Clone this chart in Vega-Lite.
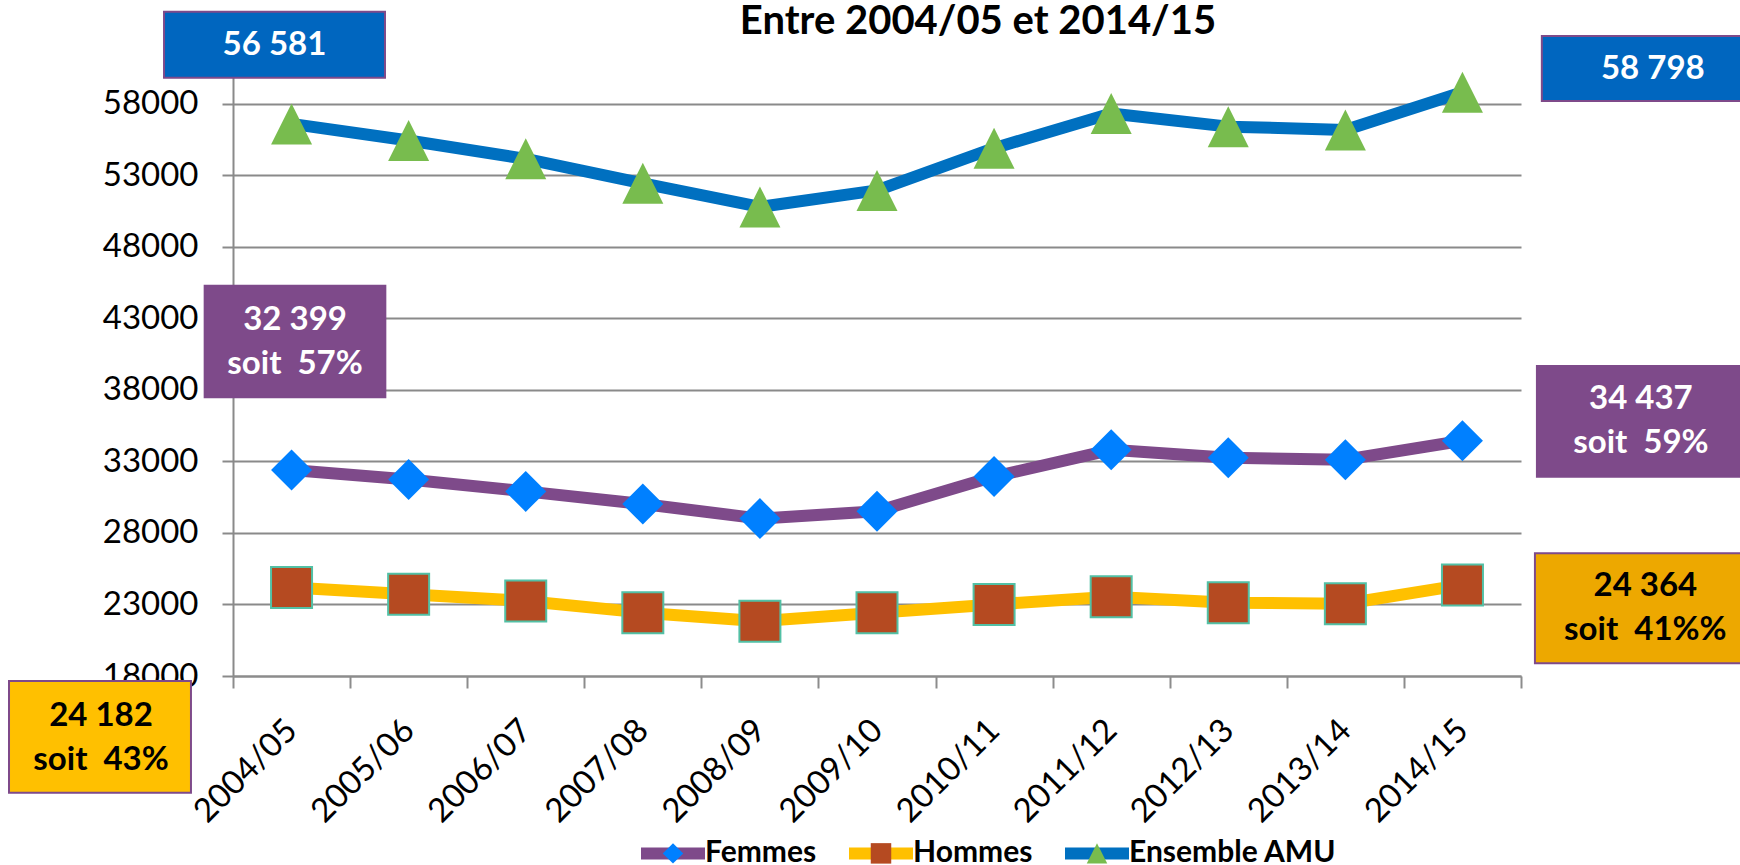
{
  "$schema": "https://vega.github.io/schema/vega-lite/v6.json",
  "autosize": {"type": "none"},
  "padding": {"left": 233, "top": 75, "right": 219, "bottom": 189},
  "width": 1288,
  "height": 601,
  "background": "white",
  "config": {"view": {"stroke": null}, "font": "Lato"},
  "title": {"text": "Entre 2004/05 et 2014/15", "anchor": "middle", "frame": "group", "dx": 101, "offset": 0, "dy": 31, "font": "Lato", "fontSize": 40, "fontWeight": "bold", "color": "#000000"},
  "datasets": {
    "series": [
      {"annee": "2004/05", "idx": 0, "serie": "Femmes", "valeur": 32399},
      {"annee": "2005/06", "idx": 1, "serie": "Femmes", "valeur": 31727},
      {"annee": "2006/07", "idx": 2, "serie": "Femmes", "valeur": 30902},
      {"annee": "2007/08", "idx": 3, "serie": "Femmes", "valeur": 30014},
      {"annee": "2008/09", "idx": 4, "serie": "Femmes", "valeur": 29000},
      {"annee": "2009/10", "idx": 5, "serie": "Femmes", "valeur": 29517},
      {"annee": "2010/11", "idx": 6, "serie": "Femmes", "valeur": 31937},
      {"annee": "2011/12", "idx": 7, "serie": "Femmes", "valeur": 33804},
      {"annee": "2012/13", "idx": 8, "serie": "Femmes", "valeur": 33245},
      {"annee": "2013/14", "idx": 9, "serie": "Femmes", "valeur": 33119},
      {"annee": "2014/15", "idx": 10, "serie": "Femmes", "valeur": 34437},
      {"annee": "2004/05", "idx": 0, "serie": "Hommes", "valeur": 24182},
      {"annee": "2005/06", "idx": 1, "serie": "Hommes", "valeur": 23720},
      {"annee": "2006/07", "idx": 2, "serie": "Hommes", "valeur": 23245},
      {"annee": "2007/08", "idx": 3, "serie": "Hommes", "valeur": 22427},
      {"annee": "2008/09", "idx": 4, "serie": "Hommes", "valeur": 21832},
      {"annee": "2009/10", "idx": 5, "serie": "Hommes", "valeur": 22427},
      {"annee": "2010/11", "idx": 6, "serie": "Hommes", "valeur": 23000},
      {"annee": "2011/12", "idx": 7, "serie": "Hommes", "valeur": 23538},
      {"annee": "2012/13", "idx": 8, "serie": "Hommes", "valeur": 23119},
      {"annee": "2013/14", "idx": 9, "serie": "Hommes", "valeur": 23049},
      {"annee": "2014/15", "idx": 10, "serie": "Hommes", "valeur": 24364},
      {"annee": "2004/05", "idx": 0, "serie": "Ensemble AMU", "valeur": 56581},
      {"annee": "2005/06", "idx": 1, "serie": "Ensemble AMU", "valeur": 55427},
      {"annee": "2006/07", "idx": 2, "serie": "Ensemble AMU", "valeur": 54140},
      {"annee": "2007/08", "idx": 3, "serie": "Ensemble AMU", "valeur": 52427},
      {"annee": "2008/09", "idx": 4, "serie": "Ensemble AMU", "valeur": 50783},
      {"annee": "2009/10", "idx": 5, "serie": "Ensemble AMU", "valeur": 51937},
      {"annee": "2010/11", "idx": 6, "serie": "Ensemble AMU", "valeur": 54888},
      {"annee": "2011/12", "idx": 7, "serie": "Ensemble AMU", "valeur": 57313},
      {"annee": "2012/13", "idx": 8, "serie": "Ensemble AMU", "valeur": 56392},
      {"annee": "2013/14", "idx": 9, "serie": "Ensemble AMU", "valeur": 56161},
      {"annee": "2014/15", "idx": 10, "serie": "Ensemble AMU", "valeur": 58798}
    ],
    "annotations": [
      {"groupe": "Ensemble AMU", "cote": "debut", "texte": "56 581", "x": -1.089, "x2": 0.798, "y": 64423, "y2": 59811, "xt": -0.146, "yt": 62117},
      {"groupe": "Ensemble AMU", "cote": "fin", "texte": "58 798", "x": 10.678, "x2": 12.42, "y": 62725, "y2": 58183, "xt": 11.626, "yt": 60419},
      {"groupe": "Femmes", "cote": "debut", "texte": "32 399\nsoit \u00a057%", "x": -0.742, "x2": 0.801, "y": 45276, "y2": 37477, "xt": 0.03, "yt": 42879},
      {"groupe": "Femmes", "cote": "fin", "texte": "34 437\nsoit \u00a059%", "x": 10.636, "x2": 12.42, "y": 39665, "y2": 31929, "xt": 11.524, "yt": 37358},
      {"groupe": "Hommes", "cote": "fin", "texte": "24 364\nsoit \u00a041%%", "x": 10.619, "x2": 12.42, "y": 26576, "y2": 18889, "xt": 11.562, "yt": 24312},
      {"groupe": "Hommes", "cote": "debut", "texte": "24 182\nsoit \u00a043%", "x": -2.413, "x2": -0.859, "y": 17652, "y2": 9846, "xt": -1.627, "yt": 15206}
    ]
  },
  "layer": [
    {
      "data": {"name": "series"},
      "mark": {"type": "line", "strokeWidth": 12, "strokeJoin": "round", "strokeCap": "butt"},
      "encoding": {
        "x": {
          "field": "idx", "type": "quantitative",
          "scale": {"domain": [-0.5, 10.5], "nice": false, "zero": false},
          "axis": {
            "values": [-0.5, 0, 0.5, 1, 1.5, 2, 2.5, 3, 3.5, 4, 4.5, 5, 5.5, 6, 6.5, 7, 7.5, 8, 8.5, 9, 9.5, 10, 10.5],
            "title": null, "grid": false,
            "domainColor": "#8c8c8c", "domainWidth": 2,
            "tickColor": "#8c8c8c", "tickWidth": 2, "tickSize": 12,
            "tickOpacity": {"condition": {"test": "datum.value % 1 !== 0", "value": 1}, "value": 0},
            "labelExpr": "datum.value % 1 === 0 ? ['2004/05','2005/06','2006/07','2007/08','2008/09','2009/10','2010/11','2011/12','2012/13','2013/14','2014/15'][datum.value] : ''",
            "labelAngle": -45, "labelAlign": "right", "labelBaseline": "middle",
            "labelFont": "Lato", "labelFontSize": 33, "labelColor": "#000000",
            "labelPadding": 37, "labelOverlap": false, "labelFlush": false, "labelBound": false
          }
        },
        "y": {
          "field": "valeur", "type": "quantitative",
          "scale": {"domain": [18000, 60000], "nice": false, "zero": false},
          "axis": {
            "values": [18000, 23000, 28000, 33000, 38000, 43000, 48000, 53000, 58000],
            "title": null, "grid": true, "gridColor": "#8a8a8a", "gridWidth": 2,
            "domainColor": "#8a8a8a", "domainWidth": 2,
            "tickColor": "#8a8a8a", "tickWidth": 2, "tickSize": 11,
            "labelFont": "Lato", "labelFontSize": 33, "labelColor": "#000000",
            "labelPadding": 24, "format": "d", "labelOverlap": false, "labelFlush": false
          }
        },
        "stroke": {
          "field": "serie", "type": "nominal",
          "sort": ["Femmes", "Hommes", "Ensemble AMU"],
          "scale": {"range": ["#7E4A8A", "#FFC000", "#0070C0"]},
          "legend": {
            "orient": "none", "legendX": 402, "legendY": 740, "direction": "horizontal", "columns": 3,
            "title": null, "padding": 0, "symbolType": "M0,-0.32M0,0.32M-1,0L1,0", "symbolSize": 4096, "symbolStrokeWidth": 12,
            "labelFont": "Lato", "labelFontSize": 30, "labelFontWeight": "bold", "labelColor": "#000000",
            "labelOffset": -6, "columnPadding": 8, "labelLimit": 400
          }
        }
      }
    },
    {
      "data": {"name": "series"},
      "mark": {"type": "point", "filled": true, "opacity": 1, "size": 16416, "stroke": "transparent", "strokeWidth": 12},
      "encoding": {
        "x": {"field": "idx", "type": "quantitative", "scale": {"domain": [-0.5, 10.5], "nice": false, "zero": false}},
        "y": {"field": "valeur", "type": "quantitative", "scale": {"domain": [18000, 60000], "nice": false, "zero": false}},
        "fill": {
          "field": "serie", "type": "nominal",
          "scale": {"domain": ["Femmes", "Hommes", "Ensemble AMU"], "range": ["#0080FF", "#B54A21", "#78BC4E"]},
          "legend": {
            "orient": "none", "legendX": 402, "legendY": 740, "direction": "horizontal", "columns": 3,
            "title": null, "padding": 0, "symbolSize": 4096, "symbolStrokeWidth": 12, "symbolStrokeColor": "transparent", "symbolOpacity": 1,
            "labelFont": "Lato", "labelFontSize": 30, "labelFontWeight": "bold", "labelOpacity": 0,
            "labelOffset": -6, "columnPadding": 8, "labelLimit": 400
          }
        },
        "shape": {
          "field": "serie", "type": "nominal",
          "scale": {"domain": ["Femmes", "Hommes", "Ensemble AMU"], "range": ["M-1,0M1,0M0,-0.32L0.32,0L0,0.32L-0.32,0Z", "M-1,0M1,0M-0.32,-0.32L0.32,-0.32L0.32,0.32L-0.32,0.32Z", "M-1,0M1,0M0,-0.32L0.32,0.32L-0.32,0.32Z"]}
        }
      }
    },
    {
      "data": {"name": "series"},
      "transform": [{"filter": "datum.serie === 'Hommes'"}],
      "mark": {"type": "point", "shape": "square", "filled": true, "opacity": 1, "size": 1681, "fill": "#B54A21", "stroke": "#52C0A5", "strokeWidth": 2},
      "encoding": {
        "x": {"field": "idx", "type": "quantitative", "scale": {"domain": [-0.5, 10.5], "nice": false, "zero": false}},
        "y": {"field": "valeur", "type": "quantitative", "scale": {"domain": [18000, 60000], "nice": false, "zero": false}}
      }
    },
    {
      "data": {"name": "annotations"},
      "mark": {"type": "rect", "stroke": "#7E4A8A", "strokeWidth": 2},
      "encoding": {
        "x": {"field": "x", "type": "quantitative", "scale": {"domain": [-0.5, 10.5], "nice": false, "zero": false}},
        "x2": {"field": "x2"},
        "y": {"field": "y", "type": "quantitative", "scale": {"domain": [18000, 60000], "nice": false, "zero": false}},
        "y2": {"field": "y2"},
        "fill": {
          "condition": [
            {"test": "datum.groupe === 'Ensemble AMU'", "value": "#0066BF"},
            {"test": "datum.groupe === 'Femmes'", "value": "#7E4A8A"},
            {"test": "datum.cote === 'fin'", "value": "#EDA800"}
          ],
          "value": "#FFC000"
        }
      }
    },
    {
      "data": {"name": "annotations"},
      "mark": {"type": "text", "font": "Lato", "fontSize": 33, "fontWeight": "bold", "lineBreak": "\n", "lineHeight": 44, "align": "center", "baseline": "middle"},
      "encoding": {
        "x": {"field": "xt", "type": "quantitative", "scale": {"domain": [-0.5, 10.5], "nice": false, "zero": false}},
        "y": {"field": "yt", "type": "quantitative", "scale": {"domain": [18000, 60000], "nice": false, "zero": false}},
        "text": {"field": "texte"},
        "color": {"condition": {"test": "datum.groupe === 'Hommes'", "value": "#000000"}, "value": "#FFFFFF"}
      }
    }
  ]
}
